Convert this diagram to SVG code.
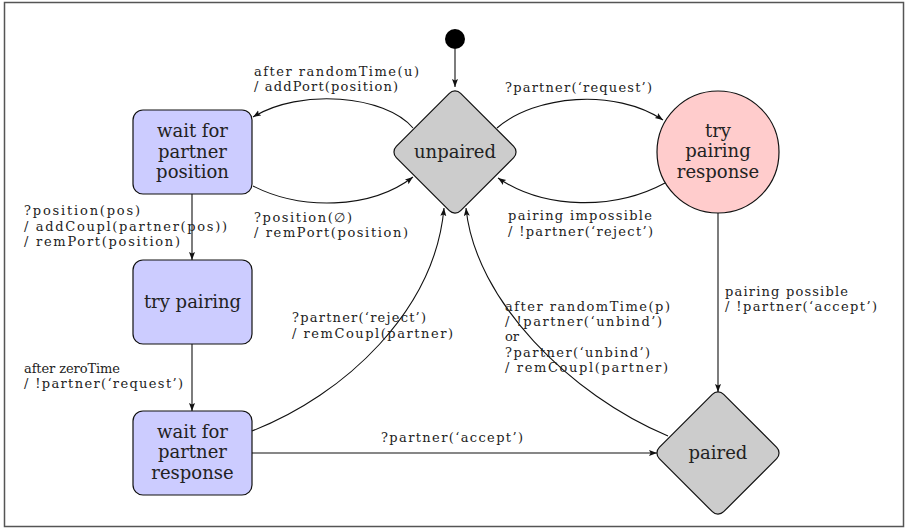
<svg xmlns="http://www.w3.org/2000/svg" width="907" height="529" viewBox="0 0 907 529">
<style>
.box{fill:#ccccff;stroke:#111;stroke-width:1.2}
.circ{fill:#ffcccc;stroke:#111;stroke-width:1.2}
.dia{fill:#cccccc;stroke:#111;stroke-width:1.2}
.nl{font-family:"DejaVu Serif","Liberation Serif",serif;font-size:18px;fill:#222;text-anchor:middle}
.el{font-family:"DejaVu Serif","Liberation Serif",serif;font-size:13px;fill:#222}
.edge{fill:none;stroke:#111;stroke-width:1.1;marker-end:url(#ah)}
</style>
<defs>
<marker id="ah" markerUnits="userSpaceOnUse" markerWidth="10" markerHeight="8" refX="8" refY="3" orient="auto">
<path d="M0,0 L8,3 L0,6 L1.6,3 z" fill="#111"/>
</marker>
</defs>
<rect x="4.5" y="2.5" width="899" height="524" fill="#fff" stroke="#555" stroke-width="1.5"/>

<g id="init"><circle cx="455" cy="39" r="10" fill="#000"/></g>

<g id="unpaired">
<rect x="409.5" y="106.5" width="91" height="91" rx="8" class="dia" transform="rotate(45 455 152)"/>
<text class="nl" x="455" y="157.5">unpaired</text>
</g>

<g id="waitPosition">
<rect x="133" y="110" width="119" height="84" rx="10" class="box"/>
<text class="nl" x="192.5" y="137">wait for</text>
<text class="nl" x="192.5" y="157.5">partner</text>
<text class="nl" x="192.5" y="178">position</text>
</g>

<g id="tryPairing">
<rect x="133" y="260" width="119" height="84" rx="10" class="box"/>
<text class="nl" x="192.5" y="308">try pairing</text>
</g>

<g id="waitResponse">
<rect x="133" y="411" width="119" height="84" rx="10" class="box"/>
<text class="nl" x="192.5" y="437.5">wait for</text>
<text class="nl" x="192.5" y="458">partner</text>
<text class="nl" x="192.5" y="478.5">response</text>
</g>

<g id="tryPairingResponse">
<circle cx="718" cy="152" r="61" class="circ"/>
<text class="nl" x="718" y="136.5">try</text>
<text class="nl" x="718" y="157">pairing</text>
<text class="nl" x="718" y="177.5">response</text>
</g>

<g id="paired">
<rect x="672.5" y="407.5" width="91" height="91" rx="8" class="dia" transform="rotate(45 718 453)"/>
<text class="nl" x="718" y="458.5">paired</text>
</g>

<g id="connectors">
<path class="edge" d="M455,49 L455,87"/>
<path class="edge" d="M413,128 C385,95 300,88 253,117"/>
<path class="edge" d="M497,128 C535,95 615,88 663,120"/>
<path class="edge" d="M665,183 C615,210 545,210 498,178"/>
<path class="edge" d="M253,186 C300,210 370,210 413,177"/>
<path class="edge" d="M192,194 L192,260"/>
<path class="edge" d="M192,344 L192,411"/>
<path class="edge" d="M252,453 L657,453"/>
<path class="edge" d="M252,431 C345,395 435,310 444,208"/>
<path class="edge" d="M668,436 C570,395 475,300 466,208"/>
<path class="edge" d="M718,213 L718,392"/>
</g>

<g id="labels">
<text class="el" x="254" y="76" textLength="165" lengthAdjust="spacing">after randomTime(u)</text>
<text class="el" x="254" y="91" textLength="144" lengthAdjust="spacing">/ addPort(position)</text>
<text class="el" x="505" y="92" textLength="147" lengthAdjust="spacing">?partner(‘request’)</text>
<text class="el" x="24" y="215" textLength="116" lengthAdjust="spacing">?position(pos)</text>
<text class="el" x="24" y="231" textLength="203" lengthAdjust="spacing">/ addCoupl(partner(pos))</text>
<text class="el" x="24" y="246" textLength="156" lengthAdjust="spacing">/ remPort(position)</text>
<text class="el" x="254" y="222" textLength="98" lengthAdjust="spacing">?position(∅)</text>
<text class="el" x="254" y="237" textLength="154" lengthAdjust="spacing">/ remPort(position)</text>
<text class="el" x="508" y="220" textLength="144" lengthAdjust="spacing">pairing impossible</text>
<text class="el" x="508" y="236" textLength="145" lengthAdjust="spacing">/ !partner(‘reject’)</text>
<text class="el" x="725" y="296" textLength="123" lengthAdjust="spacing">pairing possible</text>
<text class="el" x="725" y="311" textLength="152" lengthAdjust="spacing">/ !partner(‘accept’)</text>
<text class="el" x="292" y="322" textLength="134" lengthAdjust="spacing">?partner(‘reject’)</text>
<text class="el" x="292" y="338" textLength="161" lengthAdjust="spacing">/ remCoupl(partner)</text>
<text class="el" x="24" y="373" textLength="96" lengthAdjust="spacing">after zeroTime</text>
<text class="el" x="24" y="388" textLength="159" lengthAdjust="spacing">/ !partner(‘request’)</text>
<text class="el" x="505" y="311" textLength="165" lengthAdjust="spacing">after randomTime(p)</text>
<text class="el" x="505" y="326" textLength="157" lengthAdjust="spacing">/ !partner(‘unbind’)</text>
<text class="el" x="505" y="341">or</text>
<text class="el" x="505" y="356.5" textLength="145" lengthAdjust="spacing">?partner(‘unbind’)</text>
<text class="el" x="505" y="372" textLength="163" lengthAdjust="spacing">/ remCoupl(partner)</text>
<text class="el" x="381" y="442" textLength="142" lengthAdjust="spacing">?partner(‘accept’)</text>
</g>
</svg>
